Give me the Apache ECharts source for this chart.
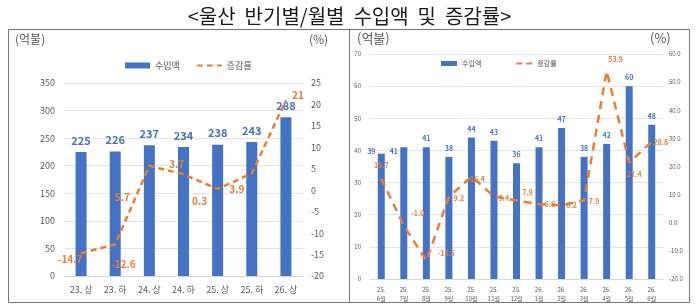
<!DOCTYPE html>
<html>
<head>
<meta charset="utf-8">
<title>울산 수입액</title>
<script src="https://cdn.jsdelivr.net/npm/echarts@6/dist/echarts.min.js"></script>
<style>
  html, body { margin: 0; padding: 0; background: #fff; }
  #main { width: 699px; height: 305px; }
</style>
</head>
<body>
<div id="main"></div>
<script>
// 반기별 (left)
var halfCats = ['23. 상', '23. 하', '24. 상', '24. 하', '25. 상', '25. 하', '26. 상'];
var halfImport = [225, 226, 237, 234, 238, 243, 288];
var halfRate = [-14.7, -12.6, 5.7, 3.7, 0.3, 3.9, 21];

// 월별 (right)
var monthCats = ['25.\n6월', '25.\n7월', '25.\n8월', '25.\n9월', '25.\n10월', '25.\n11월', '25.\n12월',
                 '26.\n1월', '26.\n2월', '26.\n3월', '26.\n4월', '26.\n5월', '26.\n6월'];
var monthImport = [39, 41, 41, 38, 44, 43, 36, 41, 47, 38, 42, 60, 48];
var monthRate = [15.7, -1.0, -13.5, 9.2, 16.4, 9.4, 7.9, 6.6, 6.2, 7.9, 53.9, 21.4, 28.8];

// label offsets (style only)
var halfRateOffset = [[-11, 6], [8, 20], [-27, 31], [-7, -10], [-18, 12], [-15, 16], [12, -5]];
var monthRateOffset = [[0, -13], [14, -12], [20, -7], [10, 1], [6, 3], [10, 2], [11, -8],
                       [11, 0], [10, 0], [10, 1], [9, -12], [5, 12], [9, 1]];
var monthBarOffset = [[-10, 6], [-10, 13], [0, 0], [0, 0], [0, 0], [0, 0], [0, 0],
                      [0, 0], [0, 0], [0, 0], [0, 0], [0, 0], [0, 0]];

var BLUE = '#4472C4', ORANGE = '#ED7D31', GRAY = '#595959';
var FONT = '"Noto Sans CJK KR", "Noto Sans", sans-serif';

var myChart = echarts.init(document.getElementById('main'));

function rateData(vals, offs, digits) {
    return vals.map(function (v, i) {
        return { value: v, label: { offset: offs[i], formatter: function () {
            return digits ? v.toFixed(digits) : String(v);
        } } };
    });
}

var option = {
    backgroundColor: '#fff',
    animation: false,
    textStyle: { fontFamily: FONT },
    title: {
        text: '<울산  반기별/월별  수입액  및  증감률>',
        left: 'center', top: 1,
        textStyle: { fontFamily: FONT, fontSize: 20, fontWeight: 'normal', color: '#1a1a1a' }
    },
    graphic: [
        { type: 'rect', shape: { x: 8.5, y: 29.5, width: 681, height: 273 },
          style: { fill: null, stroke: '#777', lineWidth: 1 } },
        { type: 'line', shape: { x1: 349.5, y1: 29.5, x2: 349.5, y2: 302.5 },
          style: { stroke: '#777', lineWidth: 1 } },
        { type: 'text', left: 15, top: 33, style: { text: '(억불)', fontFamily: FONT, fontSize: 12, fill: GRAY } },
        { type: 'text', left: 309, top: 33, style: { text: '(%)', fontFamily: FONT, fontSize: 12, fill: GRAY } },
        { type: 'text', left: 357, top: 32, style: { text: '(억불)', fontFamily: FONT, fontSize: 13, fill: GRAY } },
        { type: 'text', left: 650, top: 32, style: { text: '(%)', fontFamily: FONT, fontSize: 13, fill: GRAY } }
    ],
    legend: [
        { left: 120, top: 56, itemWidth: 25, itemHeight: 6, itemGap: 16,
          textStyle: { fontSize: 9, color: GRAY },
          data: [{ name: '수입액', icon: 'rect' }, '증감률'] },
        { left: 436, top: 55, itemWidth: 16, itemHeight: 5, itemGap: 34,
          textStyle: { fontSize: 7, color: GRAY },
          data: [{ name: '수입액', icon: 'rect' }, '증감률'] }
    ],
    grid: [
        { left: 64, top: 83, width: 239, height: 193 },
        { left: 370, top: 54, width: 293, height: 225 }
    ],
    xAxis: [
        { type: 'category', gridIndex: 0, data: halfCats,
          axisLine: { lineStyle: { color: '#D9D9D9' } }, axisTick: { show: false },
          axisLabel: { color: GRAY, fontSize: 9, margin: 9 } },
        { type: 'category', gridIndex: 1, data: monthCats,
          axisLine: { lineStyle: { color: '#D9D9D9' } }, axisTick: { show: false },
          axisLabel: { color: GRAY, fontSize: 6, margin: 6, lineHeight: 9, interval: 0 } }
    ],
    yAxis: [
        { type: 'value', gridIndex: 0, min: 0, max: 350, interval: 50,
          axisLine: { show: false }, axisTick: { show: false },
          splitLine: { lineStyle: { color: '#E4E4E4' } },
          axisLabel: { color: GRAY, fontSize: 9, margin: 9 } },
        { type: 'value', gridIndex: 0, min: -20, max: 25, interval: 5, position: 'right',
          axisLine: { show: false }, axisTick: { show: false }, splitLine: { show: false },
          axisLabel: { color: GRAY, fontSize: 9, margin: 8 } },
        { type: 'value', gridIndex: 1, min: 0, max: 70, interval: 10,
          axisLine: { show: false }, axisTick: { show: false },
          splitLine: { lineStyle: { color: '#E4E4E4' } },
          axisLabel: { color: GRAY, fontSize: 6, margin: 9 } },
        { type: 'value', gridIndex: 1, min: -20, max: 60, interval: 10, position: 'right',
          axisLine: { show: false }, axisTick: { show: false }, splitLine: { show: false },
          axisLabel: { color: GRAY, fontSize: 6, margin: 6,
                       formatter: function (v) { return v.toFixed(1); } } }
    ],
    series: [
        { name: '수입액', type: 'bar', xAxisIndex: 0, yAxisIndex: 0, data: halfImport,
          barWidth: 11, itemStyle: { color: BLUE },
          label: { show: true, position: 'top', color: BLUE, fontSize: 11, fontWeight: 'bold', distance: 6 } },
        { name: '증감률', type: 'line', xAxisIndex: 0, yAxisIndex: 1,
          data: rateData(halfRate, halfRateOffset, 0),
          symbol: 'circle', symbolSize: 0, showSymbol: true, z: 5,
          lineStyle: { color: ORANGE, width: 2.5, type: [6, 4] },
          itemStyle: { color: 'transparent' },
          label: { show: true, position: 'inside', color: ORANGE, fontSize: 10, fontWeight: 'bold' } },
        { name: '수입액', type: 'bar', xAxisIndex: 1, yAxisIndex: 2,
          data: monthImport.map(function (v, i) { return { value: v, label: { offset: monthBarOffset[i] } }; }),
          barWidth: 7, itemStyle: { color: BLUE },
          label: { show: true, position: 'top', color: BLUE, fontSize: 7, fontWeight: 'bold', distance: 5 } },
        { name: '증감률', type: 'line', xAxisIndex: 1, yAxisIndex: 3,
          data: rateData(monthRate, monthRateOffset, 1),
          symbol: 'circle', symbolSize: 0, showSymbol: true, z: 5,
          lineStyle: { color: ORANGE, width: 2.5, type: [8, 6] },
          itemStyle: { color: 'transparent' },
          label: { show: true, position: 'inside', color: ORANGE, fontSize: 7, fontWeight: 'bold' } }
    ]
};

myChart.setOption(option);
</script>
</body>
</html>
